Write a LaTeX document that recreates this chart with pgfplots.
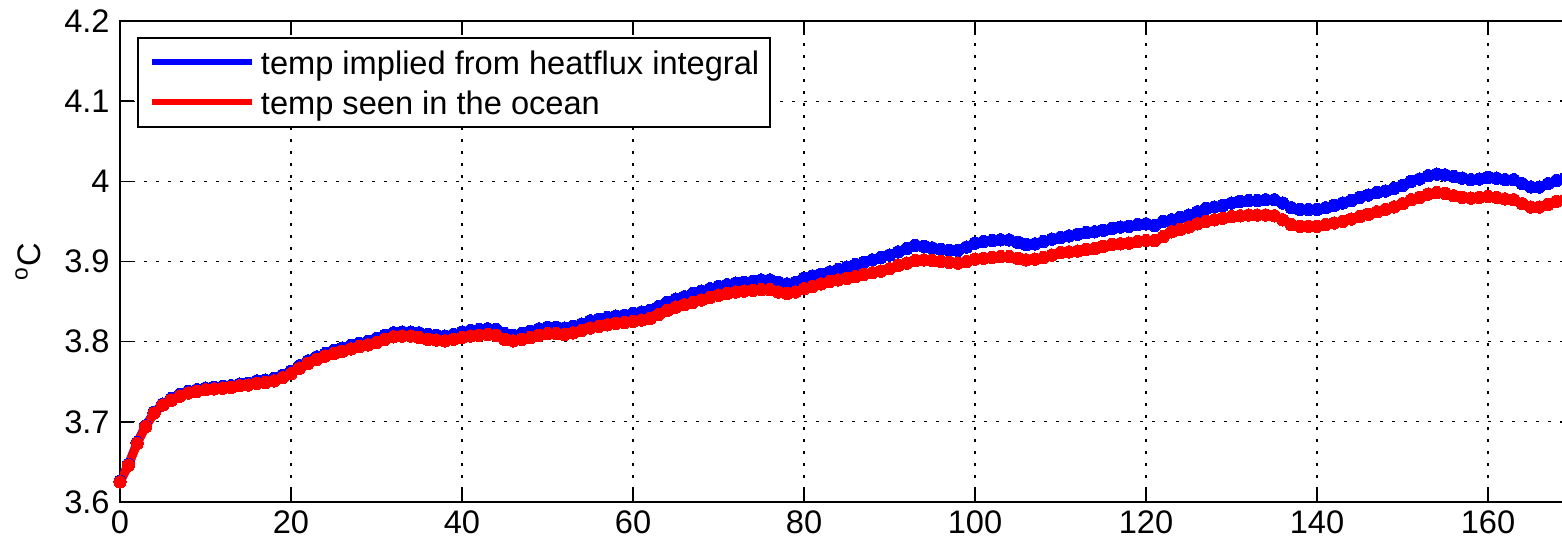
\documentclass[border=0pt]{standalone}
\usepackage{fontspec}
\setmainfont{Liberation Sans}
\usepackage{pgfplots}
\usepackage{pgfplotstable}
\pgfplotsset{compat=1.18}
\usetikzlibrary{calc}

% year, heatflux-implied temp, ocean temp
\pgfplotstableread{
x b r
0 3.626 3.625
1 3.647 3.646
2 3.674 3.673
3 3.695 3.694
4 3.712 3.711
5 3.722 3.721
6 3.729 3.727
7 3.734 3.732
8 3.738 3.736
9 3.740 3.738
10 3.742 3.740
11 3.743 3.741
12 3.744 3.742
13 3.745 3.743
14 3.747 3.745
15 3.748 3.746
16 3.751 3.748
17 3.752 3.749
18 3.754 3.751
19 3.758 3.755
20 3.763 3.760
21 3.770 3.767
22 3.776 3.773
23 3.781 3.778
24 3.785 3.782
25 3.789 3.785
26 3.792 3.788
27 3.795 3.791
28 3.798 3.794
29 3.800 3.796
30 3.804 3.799
31 3.808 3.803
32 3.811 3.806
33 3.812 3.807
34 3.812 3.807
35 3.811 3.805
36 3.809 3.803
37 3.808 3.802
38 3.807 3.801
39 3.809 3.803
40 3.812 3.805
41 3.814 3.807
42 3.815 3.808
43 3.816 3.809
44 3.815 3.808
45 3.810 3.803
46 3.808 3.801
47 3.810 3.803
48 3.813 3.805
49 3.816 3.808
50 3.818 3.810
51 3.818 3.810
52 3.817 3.809
53 3.819 3.811
54 3.822 3.814
55 3.826 3.817
56 3.828 3.819
57 3.830 3.821
58 3.832 3.823
59 3.833 3.824
60 3.835 3.825
61 3.837 3.827
62 3.839 3.829
63 3.844 3.834
64 3.849 3.839
65 3.853 3.843
66 3.856 3.846
67 3.860 3.849
68 3.863 3.852
69 3.866 3.855
70 3.869 3.858
71 3.871 3.860
72 3.873 3.862
73 3.874 3.863
74 3.875 3.864
75 3.877 3.865
76 3.877 3.865
77 3.874 3.862
78 3.872 3.860
79 3.874 3.862
80 3.879 3.866
81 3.882 3.869
82 3.884 3.872
83 3.887 3.875
84 3.890 3.877
85 3.893 3.879
86 3.896 3.881
87 3.899 3.884
88 3.902 3.886
89 3.905 3.888
90 3.908 3.891
91 3.912 3.895
92 3.916 3.898
93 3.920 3.901
94 3.919 3.902
95 3.917 3.901
96 3.915 3.900
97 3.914 3.899
98 3.914 3.898
99 3.918 3.900
100 3.923 3.903
101 3.925 3.904
102 3.926 3.905
103 3.927 3.906
104 3.927 3.906
105 3.924 3.904
106 3.921 3.902
107 3.922 3.903
108 3.925 3.905
109 3.928 3.908
110 3.930 3.911
111 3.932 3.912
112 3.934 3.913
113 3.936 3.915
114 3.937 3.916
115 3.939 3.919
116 3.941 3.921
117 3.943 3.922
118 3.944 3.923
119 3.946 3.925
120 3.947 3.926
121 3.945 3.926
122 3.950 3.931
123 3.952 3.937
124 3.955 3.940
125 3.958 3.943
126 3.962 3.947
127 3.966 3.950
128 3.968 3.952
129 3.970 3.954
130 3.973 3.956
131 3.975 3.957
132 3.976 3.958
133 3.976 3.958
134 3.977 3.958
135 3.977 3.957
136 3.973 3.952
137 3.967 3.946
138 3.965 3.944
139 3.965 3.944
140 3.965 3.944
141 3.967 3.946
142 3.970 3.948
143 3.973 3.950
144 3.976 3.953
145 3.980 3.956
146 3.983 3.959
147 3.986 3.962
148 3.988 3.965
149 3.991 3.968
150 3.995 3.972
151 4.000 3.977
152 4.003 3.980
153 4.007 3.984
154 4.009 3.986
155 4.008 3.985
156 4.006 3.982
157 4.004 3.980
158 4.002 3.979
159 4.003 3.980
160 4.005 3.981
161 4.004 3.980
162 4.002 3.978
163 4.002 3.977
164 3.997 3.972
165 3.993 3.968
166 3.993 3.968
167 3.997 3.971
168 4.001 3.975
169 4.004 3.977
170 4.006 3.979
}\temps

\begin{document}
\begin{tikzpicture}[font=\fontsize{16.3}{19.6}\selectfont]
\begin{axis}[
  name=ax,
  at={(0,0)}, anchor=south west,
  scale only axis,
  width=726.75pt, height=240.5pt,
  xmin=0, xmax=170,
  ymin=3.6, ymax=4.2,
  xtick={0,20,40,60,80,100,120,140,160},
  ytick={3.6,3.7,3.8,3.9,4.0,4.1,4.2},
  /pgf/number format/assume math mode=true,
  tick align=inside,
  major tick length=7pt,
  tick style={black, line width=0.75pt},
  axis line style={line width=1pt},
  grid=major,
  major grid style={black, line width=0.6pt, dash pattern=on 1.5pt off 4.5pt},
  tick label style={inner sep=0pt},
  xticklabel style={yshift=-4pt},
  yticklabel style={xshift=-5pt},
  ylabel={\textsuperscript{o}C},
  ylabel style={at={(axis description cs:0,0.5)}, anchor=center, yshift=46pt},
  legend cell align=left,
  legend image code/.code={\draw[#1, mark=none, line width=3pt] (0pt,0pt) -- (50pt,0pt);},
  legend style={at={(rel axis cs:0,1)}, anchor=north west, xshift=8.5pt, yshift=-8pt,
    draw=black, line width=1pt, inner xsep=5.5pt, inner ysep=4.5pt,
    row sep=4.5pt,
    nodes={inner sep=0pt, text height=14pt, text depth=1.5pt},
    /tikz/every odd column/.append style={column sep=3pt}},
]
\addplot[blue, line width=4.4pt, mark=*, mark size=3.1pt, mark options={solid, line width=0pt}] table[x=x, y=b] {\temps};
\addlegendentry{temp implied from heatflux integral}
\addplot[red, line width=4.4pt, mark=*, mark size=3.1pt, mark options={solid, line width=0pt}] table[x=x, y=r] {\temps};
\addlegendentry{temp seen in the ocean}
\end{axis}
\pgfresetboundingbox
\path[use as bounding box] ($(ax.south west)+(-60pt,-22pt)$) rectangle ($(ax.south west)+(721pt,251pt)$);
\end{tikzpicture}
\end{document}
